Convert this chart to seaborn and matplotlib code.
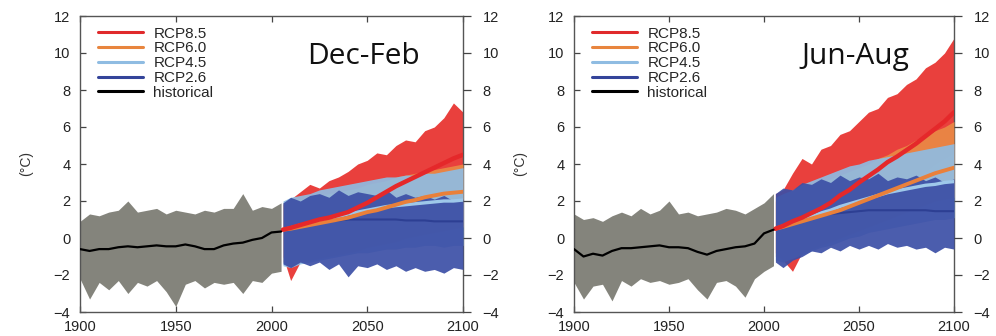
import matplotlib
matplotlib.use("Agg")
import matplotlib.pyplot as plt
from matplotlib.lines import Line2D
import numpy as np
import pandas as pd
import seaborn as sns

# ---------------- data ----------------
hist_years = [1900, 1905, 1910, 1915, 1920, 1925, 1930, 1935, 1940, 1945, 1950,
              1955, 1960, 1965, 1970, 1975, 1980, 1985, 1990, 1995, 2000, 2005]
fut_years = [2006, 2010, 2015, 2020, 2025, 2030, 2035, 2040, 2045, 2050,
             2055, 2060, 2065, 2070, 2075, 2080, 2085, 2090, 2095, 2100]

# Dec-Feb
djf_hist_mean = [-0.6, -0.7, -0.6, -0.6, -0.5, -0.45, -0.5, -0.45, -0.4, -0.45, -0.45,
                 -0.35, -0.45, -0.6, -0.6, -0.4, -0.3, -0.25, -0.1, 0.0, 0.3, 0.35]
djf_hist_hi = [0.9, 1.3, 1.2, 1.4, 1.5, 2.0, 1.4, 1.5, 1.6, 1.3, 1.5,
               1.4, 1.3, 1.5, 1.4, 1.6, 1.6, 2.4, 1.5, 1.7, 1.6, 1.9]
djf_hist_lo = [-2.2, -3.3, -2.4, -2.8, -2.3, -3.0, -2.4, -2.6, -2.3, -2.9, -3.7,
               -2.5, -2.3, -2.7, -2.4, -2.5, -2.4, -3.0, -2.3, -2.4, -1.9, -1.8]

djf_rcp85_mean = [0.45, 0.55, 0.7, 0.85, 1.0, 1.1, 1.25, 1.4, 1.65, 1.9,
                  2.2, 2.5, 2.8, 3.05, 3.3, 3.55, 3.8, 4.05, 4.3, 4.5]
djf_rcp85_hi = [1.8, 2.1, 2.5, 2.9, 2.7, 3.1, 3.3, 3.6, 4.0, 4.2,
                4.6, 4.5, 5.0, 5.3, 5.2, 5.8, 6.0, 6.5, 7.3, 6.8]
djf_rcp85_lo = [-1.0, -2.3, -1.3, -0.8, -0.6, -0.4, -0.2, 0.0, 0.3, 0.5,
                0.8, 1.0, 1.3, 1.5, 1.8, 2.0, 2.2, 2.4, 2.6, 2.8]
djf_rcp60_mean = [0.45, 0.5, 0.6, 0.7, 0.8, 0.9, 1.0, 1.1, 1.25, 1.4,
                  1.5, 1.65, 1.8, 1.95, 2.05, 2.2, 2.3, 2.4, 2.45, 2.5]
djf_rcp60_hi = [1.9, 2.0, 2.1, 2.2, 2.3, 2.4, 2.5, 2.6, 2.7, 2.9,
                3.0, 3.1, 3.3, 3.4, 3.5, 3.6, 3.7, 3.8, 3.9, 4.0]
djf_rcp60_lo = [-1.3, -1.4, -1.3, -1.2, -1.1, -1.0, -0.9, -0.8, -0.7, -0.5,
                -0.4, -0.3, -0.2, 0.0, 0.1, 0.2, 0.3, 0.4, 0.5, 0.6]
djf_rcp45_mean = [0.45, 0.55, 0.7, 0.8, 0.95, 1.05, 1.15, 1.3, 1.4, 1.5,
                  1.6, 1.7, 1.75, 1.8, 1.85, 1.9, 1.95, 2.0, 2.0, 2.05]
djf_rcp45_hi = [2.0, 2.2, 2.3, 2.4, 2.6, 2.7, 2.8, 2.9, 3.0, 3.1,
                3.2, 3.3, 3.3, 3.4, 3.4, 3.5, 3.5, 3.6, 3.7, 3.8]
djf_rcp45_lo = [-1.5, -1.6, -1.4, -1.3, -1.2, -1.1, -1.0, -0.9, -0.8, -0.8,
                -0.7, -0.6, -0.6, -0.5, -0.5, -0.4, -0.4, -0.5, -0.4, -0.4]
djf_rcp26_mean = [0.45, 0.55, 0.65, 0.75, 0.85, 0.9, 0.95, 1.0, 1.0, 1.0,
                  1.0, 1.0, 1.0, 0.95, 0.95, 0.95, 0.9, 0.9, 0.9, 0.9]
djf_rcp26_hi = [1.9, 2.2, 2.0, 2.3, 2.4, 2.2, 2.6, 2.3, 2.5, 2.4,
                2.3, 2.6, 2.2, 2.4, 2.2, 2.3, 2.1, 2.3, 2.0, 2.1]
djf_rcp26_lo = [-1.4, -1.6, -1.3, -1.5, -1.3, -1.7, -1.4, -2.1, -1.5, -1.6,
                -1.4, -1.7, -1.5, -1.8, -1.6, -1.8, -1.7, -1.9, -1.6, -1.7]

# Jun-Aug
jja_hist_mean = [-0.6, -1.0, -0.85, -0.95, -0.7, -0.55, -0.55, -0.5, -0.45, -0.4, -0.5,
                 -0.5, -0.55, -0.75, -0.9, -0.7, -0.6, -0.5, -0.45, -0.3, 0.25, 0.45]
jja_hist_hi = [1.3, 1.0, 1.1, 0.9, 1.2, 1.4, 1.2, 1.6, 1.3, 1.5, 2.0,
               1.3, 1.4, 1.2, 1.3, 1.4, 1.6, 1.5, 1.3, 1.6, 1.9, 2.4]
jja_hist_lo = [-2.4, -3.3, -2.6, -2.5, -3.4, -2.3, -2.6, -2.2, -2.4, -2.3, -2.5,
               -2.4, -2.2, -2.8, -3.3, -2.4, -2.3, -2.6, -3.2, -2.2, -1.8, -1.5]

jja_rcp85_mean = [0.5, 0.65, 0.9, 1.1, 1.35, 1.6, 1.9, 2.3, 2.6, 3.0,
                  3.35, 3.7, 4.1, 4.4, 4.75, 5.1, 5.5, 5.9, 6.3, 6.8]
jja_rcp85_hi = [2.4, 2.6, 3.5, 4.3, 4.0, 4.8, 5.0, 5.6, 5.8, 6.3,
                6.8, 7.0, 7.6, 7.8, 8.3, 8.6, 9.2, 9.5, 10.0, 10.8]
jja_rcp85_lo = [-0.8, -1.2, -1.8, -0.8, -0.4, 0.0, 0.3, 0.6, 1.0, 1.3,
                1.6, 2.0, 2.4, 2.7, 3.0, 3.3, 3.6, 4.0, 4.3, 4.6]
jja_rcp60_mean = [0.5, 0.6, 0.75, 0.9, 1.05, 1.2, 1.35, 1.5, 1.7, 1.9,
                  2.1, 2.3, 2.5, 2.7, 2.9, 3.1, 3.3, 3.5, 3.65, 3.8]
jja_rcp60_hi = [2.0, 2.2, 2.4, 2.6, 2.8, 3.0, 3.2, 3.4, 3.6, 3.8,
                4.0, 4.3, 4.5, 4.8, 5.0, 5.3, 5.5, 5.8, 6.0, 6.3]
jja_rcp60_lo = [-1.0, -1.1, -1.0, -0.8, -0.6, -0.4, -0.2, 0.0, 0.2, 0.4,
                0.6, 0.8, 1.0, 1.2, 1.4, 1.6, 1.8, 2.0, 2.1, 2.2]
jja_rcp45_mean = [0.5, 0.65, 0.8, 1.0, 1.15, 1.35, 1.5, 1.7, 1.85, 2.0,
                  2.15, 2.3, 2.45, 2.55, 2.65, 2.75, 2.85, 2.9, 3.0, 3.05]
jja_rcp45_hi = [2.2, 2.4, 2.6, 2.9, 3.1, 3.3, 3.5, 3.7, 3.9, 4.0,
                4.2, 4.3, 4.4, 4.5, 4.6, 4.7, 4.8, 4.9, 5.0, 5.1]
jja_rcp45_lo = [-1.2, -1.3, -1.1, -0.9, -0.7, -0.5, -0.4, -0.2, 0.0, 0.1,
                0.3, 0.4, 0.5, 0.6, 0.7, 0.8, 0.9, 1.0, 1.0, 1.1]
jja_rcp26_mean = [0.5, 0.65, 0.8, 0.95, 1.1, 1.2, 1.3, 1.35, 1.4, 1.45,
                  1.5, 1.5, 1.5, 1.5, 1.5, 1.5, 1.5, 1.45, 1.45, 1.45]
jja_rcp26_hi = [2.4, 2.7, 2.6, 3.0, 2.9, 3.2, 3.0, 3.4, 3.1, 3.3,
                3.2, 3.5, 3.1, 3.3, 3.2, 3.4, 3.1, 3.3, 3.0, 3.2]
jja_rcp26_lo = [-1.3, -1.6, -1.2, -1.0, -0.7, -0.8, -0.5, -0.7, -0.4, -0.6,
                -0.4, -0.6, -0.3, -0.5, -0.4, -0.6, -0.5, -0.8, -0.5, -0.6]

scenarios = ["RCP8.5", "RCP6.0", "RCP4.5", "RCP2.6"]
legend_labels = ["RCP8.5", "RCP6.0", "RCP4.5", "RCP2.6", "historical"]
season_titles = ["Dec-Feb", "Jun-Aug"]
x_ticks = [1900, 1950, 2000, 2050, 2100]
y_ticks = [-4, -2, 0, 2, 4, 6, 8, 10, 12]

# ---------------- style ----------------
band_colors = {"RCP8.5": "#e8302c", "RCP6.0": "#ea8a45", "RCP4.5": "#8fbce2",
               "RCP2.6": "#3c4fa6", "historical": "#84847c"}
mean_colors = {"RCP8.5": "#e5282a", "RCP6.0": "#e9803a", "RCP4.5": "#9ec8ea",
               "RCP2.6": "#2d3f93", "historical": "#000000"}
mean_widths = {"RCP8.5": 3.2, "RCP6.0": 2.8, "RCP4.5": 2.4, "RCP2.6": 1.5,
               "historical": 1.6}
legend_colors = ["#e02a2c", "#e8853e", "#8fbce2", "#34449a", "#000000"]

panels = [
    {"title": season_titles[0],
     "hist": (djf_hist_mean, djf_hist_lo, djf_hist_hi),
     "fut": {"RCP8.5": (djf_rcp85_mean, djf_rcp85_lo, djf_rcp85_hi),
             "RCP6.0": (djf_rcp60_mean, djf_rcp60_lo, djf_rcp60_hi),
             "RCP4.5": (djf_rcp45_mean, djf_rcp45_lo, djf_rcp45_hi),
             "RCP2.6": (djf_rcp26_mean, djf_rcp26_lo, djf_rcp26_hi)}},
    {"title": season_titles[1],
     "hist": (jja_hist_mean, jja_hist_lo, jja_hist_hi),
     "fut": {"RCP8.5": (jja_rcp85_mean, jja_rcp85_lo, jja_rcp85_hi),
             "RCP6.0": (jja_rcp60_mean, jja_rcp60_lo, jja_rcp60_hi),
             "RCP4.5": (jja_rcp45_mean, jja_rcp45_lo, jja_rcp45_hi),
             "RCP2.6": (jja_rcp26_mean, jja_rcp26_lo, jja_rcp26_hi)}},
]

sns.set_theme(style="white")
plt.rcParams["font.family"] = ["Liberation Sans", "DejaVu Sans"]

fig = plt.figure(figsize=(9.96, 3.36), dpi=100)
axes = [fig.add_axes([80 / 996, 24 / 336, 383 / 996, 296 / 336]),
        fig.add_axes([574 / 996, 24 / 336, 380 / 996, 296 / 336])]

tick_fs = 10.5

for ax, p in zip(axes, panels):
    # ensemble envelopes
    h_mean, h_lo, h_hi = p["hist"]
    ax.fill_between(hist_years, h_lo, h_hi, color=band_colors["historical"],
                    linewidth=0, zorder=1)
    for i, sc in enumerate(scenarios):
        m, lo, hi = p["fut"][sc]
        ax.fill_between(fut_years, lo, hi, color=band_colors[sc], linewidth=0,
                        alpha=0.92, zorder=2 + i)

    # multi-model means
    rows = []
    for y, v in zip(hist_years, h_mean):
        rows.append(("historical", y, v))
    for sc in scenarios:
        for y, v in zip(fut_years, p["fut"][sc][0]):
            rows.append((sc, y, v))
    df = pd.DataFrame(rows, columns=["scenario", "year", "anomaly"])
    for j, sc in enumerate(["RCP2.6", "RCP4.5", "RCP6.0", "RCP8.5", "historical"]):
        sns.lineplot(data=df[df["scenario"] == sc], x="year", y="anomaly",
                     color=mean_colors[sc], linewidth=mean_widths[sc],
                     ax=ax, zorder=10 + j, legend=False)

    ax.set_xlim(1900, 2100)
    ax.set_ylim(-4, 12)
    ax.set_xticks(x_ticks)
    ax.set_yticks(y_ticks)
    ax.set_xlabel("")
    ax.set_ylabel("(°C)", fontsize=10, color="#333333", labelpad=15)
    ax.tick_params(axis="both", labelsize=tick_fs, labelcolor="#222222", length=4,
                   width=0.9, color="#444444")
    ax.tick_params(axis="x", direction="in", top=True, bottom=True, pad=6)
    ax.tick_params(axis="y", direction="in", left=True, right=False, pad=7)
    for s in ax.spines.values():
        s.set_color("#555555")
        s.set_linewidth(1.0)

    # right-hand duplicate scale
    ax2 = ax.twinx()
    ax2.set_ylim(-4, 12)
    ax2.set_yticks(y_ticks)
    ax2.tick_params(axis="y", direction="out", length=6, width=0.9,
                    color="#444444", labelsize=tick_fs, labelcolor="#222222", pad=8)
    ax2.grid(False)
    for s in ax2.spines.values():
        s.set_visible(False)

    ax.text(0.74, 0.862, p["title"], transform=ax.transAxes, ha="center",
            va="center", fontsize=21.5, family=["Open Sans", "DejaVu Sans"],
            color="#111111")

    handles = [Line2D([0], [0], color=c, linewidth=2.2) for c in legend_colors]
    ax.legend(handles, legend_labels, loc="upper left", frameon=False,
              fontsize=11, handlelength=2.9, handletextpad=0.7,
              labelspacing=0.05, borderaxespad=0.3,
              bbox_to_anchor=(0.02, 1.0))

fig.savefig("out.png", dpi=100)
